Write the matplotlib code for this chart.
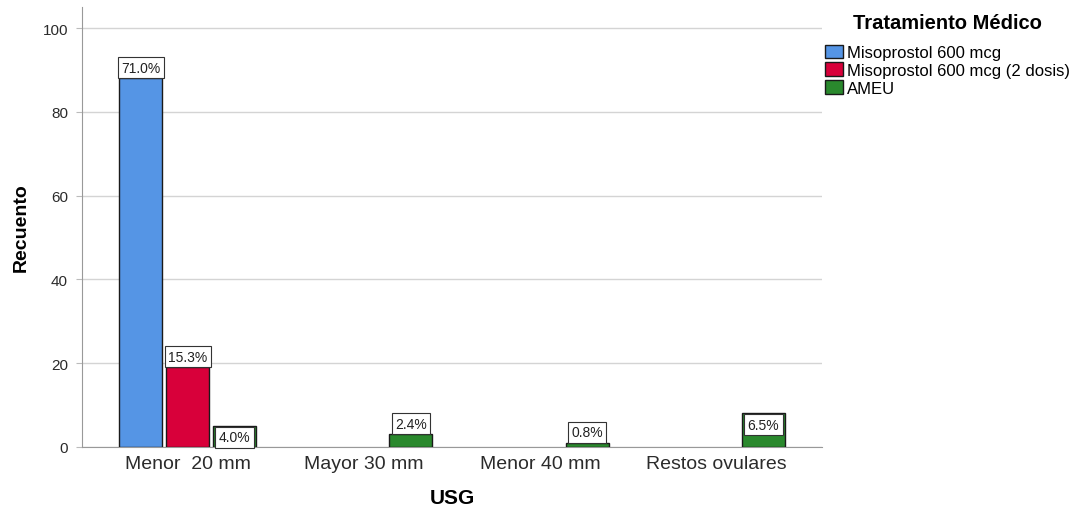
import numpy as np
import matplotlib.pyplot as plt
from matplotlib.patches import Patch

plt.rcParams["font.family"] = ["Liberation Sans", "DejaVu Sans"]

categories = ["Menor  20 mm", "Mayor 30 mm", "Menor 40 mm", "Restos ovulares"]
series = ["Misoprostol 600 mcg", "Misoprostol 600 mcg (2 dosis)", "AMEU"]
counts_miso = [88, 0, 0, 0]
counts_miso2 = [19, 0, 0, 0]
counts_ameu = [5, 3, 1, 8]
colors = ["#5595e5", "#d8003a", "#2a892d"]


def main():
    data = [counts_miso, counts_miso2, counts_ameu]
    total = sum(sum(s) for s in data)

    fig = plt.figure(figsize=(10.78, 5.10), dpi=100)
    ax = fig.add_axes([0.076, 0.1216, 0.6865, 0.8625])

    x = np.arange(len(categories))
    width = 0.245
    offsets = [-0.267, 0.0, 0.267]

    for vals, off, col in zip(data, offsets, colors):
        for xi, v in zip(x, vals):
            if v == 0:
                continue
            ax.bar(xi + off, v, width=width, color=col, edgecolor="#1a1a1a",
                   linewidth=1.0, zorder=3)
            pct = f"{100 * v / total:.1f}%"
            inside = 4 <= v <= 10
            ax.annotate(pct, (xi + off, v), xytext=(0, -3 if inside else 2.5),
                        textcoords="offset points", ha="center",
                        va="top" if inside else "bottom", fontsize=10,
                        color="#222222", zorder=4,
                        bbox=dict(boxstyle="square,pad=0.25", fc="white",
                                  ec="#333333", lw=0.8))

    ax.set_xlim(-0.6, 3.6)
    ax.set_ylim(0, 105)
    ax.set_yticks([0, 20, 40, 60, 80, 100])
    ax.set_xticks(x)
    ax.set_xticklabels(categories, fontsize=14, color="#2b2b2b")
    ax.tick_params(axis="y", labelsize=11, labelcolor="#2b2b2b", length=4,
                   color="#bbbbbb", pad=6)
    ax.tick_params(axis="x", length=0, pad=6)
    ax.grid(axis="y", color="#d4d4d4", linewidth=1, zorder=0)
    for s in ("top", "right"):
        ax.spines[s].set_visible(False)
    for s in ("left", "bottom"):
        ax.spines[s].set_color("#999999")

    ax.set_xlabel("USG", fontsize=15, fontweight="bold", labelpad=11)
    ax.set_ylabel("Recuento", fontsize=14, fontweight="bold", labelpad=9)

    handles = [Patch(facecolor=c, edgecolor="#1a1a1a", linewidth=1) for c in colors]
    leg = fig.legend(handles, series, loc="upper left",
                     bbox_to_anchor=(0.762, 0.979), frameon=False,
                     fontsize=12, title="Tratamiento Médico",
                     title_fontproperties={"weight": "bold", "size": 14.5},
                     handlelength=1.1, handleheight=0.85, handletextpad=0.25,
                     labelspacing=0.15, borderaxespad=0, borderpad=0.2)
    leg._legend_box.sep = 9

    fig.savefig("out.png", dpi=100)


if __name__ == "__main__":
    main()
